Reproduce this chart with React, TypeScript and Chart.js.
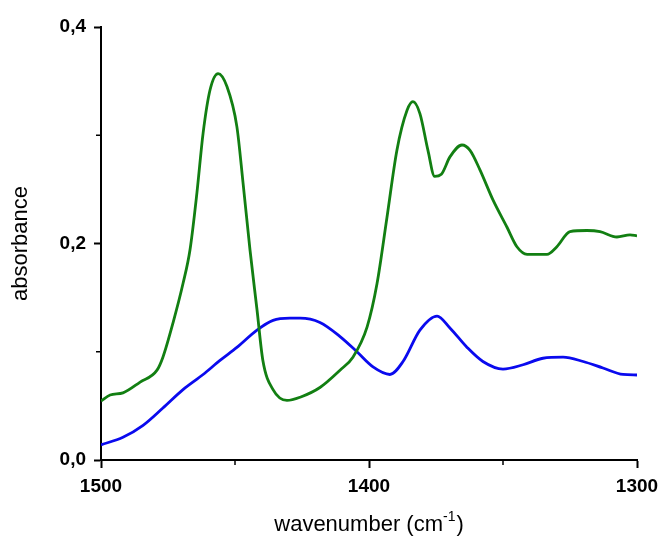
import React, { useEffect, useRef } from "react";
import { Chart, registerables } from "chart.js";

Chart.register(...registerables);

const greenWavenumbers = [1500, 1496.6, 1491.8, 1485.4, 1479.1, 1476.9, 1473.1, 1469.4, 1466.8, 1464.2, 1461.9, 1459.3, 1456.3, 1453.0, 1449.3, 1447.0, 1444.4, 1441.8, 1439.6, 1435.8, 1430.6, 1425.7, 1418.3, 1410.8, 1406.0, 1400.7, 1397.0, 1393.3, 1389.6, 1385.8, 1383.6, 1381.0, 1378.0, 1375.5, 1373.0, 1369.8, 1365.3, 1362.3, 1358.6, 1353.7, 1348.5, 1344.8, 1341.0, 1333.6, 1329.9, 1325.0, 1318.7, 1313.8, 1307.5, 1302.6, 1300];
const greenAbsorbance = [0.0545, 0.060, 0.062, 0.072, 0.083, 0.095, 0.127, 0.163, 0.194, 0.247, 0.302, 0.342, 0.357, 0.345, 0.308, 0.256, 0.194, 0.139, 0.092, 0.065, 0.055, 0.058, 0.067, 0.083, 0.095, 0.123, 0.163, 0.224, 0.286, 0.323, 0.331, 0.320, 0.286, 0.262, 0.264, 0.280, 0.291, 0.286, 0.268, 0.240, 0.215, 0.197, 0.190, 0.190, 0.197, 0.211, 0.212, 0.211, 0.206, 0.208, 0.207];

const blueWavenumbers = [1500, 1491.8, 1484.3, 1476.9, 1469.4, 1461.9, 1455.6, 1449.3, 1441.8, 1435.8, 1429.5, 1425.7, 1418.3, 1410.8, 1404.5, 1398.5, 1392.2, 1387.3, 1381.0, 1374.6, 1369.8, 1363.4, 1357.5, 1350.0, 1342.5, 1335.1, 1327.6, 1320.1, 1312.7, 1305.2, 1300];
const blueAbsorbance = [0.014, 0.021, 0.032, 0.048, 0.065, 0.079, 0.092, 0.104, 0.120, 0.129, 0.131, 0.131, 0.127, 0.114, 0.100, 0.086, 0.079, 0.091, 0.120, 0.133, 0.122, 0.104, 0.091, 0.084, 0.088, 0.094, 0.095, 0.091, 0.085, 0.079, 0.0785];

const xMajorTicks = [1500, 1400, 1300];
const xMinorTicks = [1450, 1350];
const yMajorTicks = [0, 0.2, 0.4];
const yMinorTicks = [0.1, 0.3];

const xTitleMain = "wavenumber (cm";
const xTitleSup = "-1";
const xTitleEnd = ")";

const FONT = "'Liberation Sans', Arial, sans-serif";

const extrasPlugin = {
  id: "extras",
  afterDraw(chart: any) {
    const { ctx, chartArea, scales } = chart;
    ctx.save();
    ctx.strokeStyle = "#000";
    ctx.lineWidth = 1.5;
    for (const v of yMinorTicks) {
      const y = scales.y.getPixelForValue(v);
      ctx.beginPath();
      ctx.moveTo(chartArea.left - 5, y);
      ctx.lineTo(chartArea.left, y);
      ctx.stroke();
    }
    for (const v of xMinorTicks) {
      const x = scales.x.getPixelForValue(v);
      ctx.beginPath();
      ctx.moveTo(x, chartArea.bottom);
      ctx.lineTo(x, chartArea.bottom + 5);
      ctx.stroke();
    }
    // x-axis title with superscript
    const mainFont = `22px ${FONT}`;
    const supFont = `14px ${FONT}`;
    ctx.fillStyle = "#000";
    ctx.textBaseline = "alphabetic";
    ctx.textAlign = "left";
    ctx.font = mainFont;
    const w1 = ctx.measureText(xTitleMain).width;
    const w3 = ctx.measureText(xTitleEnd).width;
    ctx.font = supFont;
    const w2 = ctx.measureText(xTitleSup).width;
    const total = w1 + w2 + 1 + w3;
    const cx = (chartArea.left + chartArea.right) / 2;
    let x = cx - total / 2;
    const baseline = 531;
    ctx.font = mainFont;
    ctx.fillText(xTitleMain, x, baseline);
    x += w1;
    ctx.font = supFont;
    ctx.fillText(xTitleSup, x, baseline - 10);
    x += w2 + 1;
    ctx.font = mainFont;
    ctx.fillText(xTitleEnd, x, baseline);
    ctx.restore();
  },
};

export default function App() {
  const canvasRef = useRef<HTMLCanvasElement | null>(null);

  useEffect(() => {
    const canvas = canvasRef.current;
    if (!canvas) return;
    const chart = new Chart(canvas, {
      type: "line",
      data: {
        datasets: [
          {
            data: greenWavenumbers.map((x, i) => ({ x, y: greenAbsorbance[i] })),
            borderColor: "#127f12",
            borderWidth: 2.8,
            pointRadius: 0,
            cubicInterpolationMode: "monotone",
            fill: false,
          },
          {
            data: blueWavenumbers.map((x, i) => ({ x, y: blueAbsorbance[i] })),
            borderColor: "#0a0aee",
            borderWidth: 2.8,
            pointRadius: 0,
            cubicInterpolationMode: "monotone",
            fill: false,
          },
        ],
      },
      options: {
        responsive: false,
        animation: false,
        layout: { padding: { top: 27, right: 24, bottom: 0, left: 0 } },
        plugins: { legend: { display: false }, tooltip: { enabled: false } },
        scales: {
          x: {
            type: "linear",
            reverse: true,
            min: 1300,
            max: 1500,
            afterBuildTicks: (scale: any) => {
              scale.ticks = xMajorTicks.map((v) => ({ value: v }));
            },
            afterFit: (scale: any) => {
              scale.height = 76;
              scale.paddingLeft = 0;
              scale.paddingRight = 0;
            },
            ticks: {
              color: "#000",
              font: { family: FONT, size: 19, weight: "bold" },
              padding: 7,
              maxRotation: 0,
              callback: (v: any) => String(v),
            },
            grid: { drawOnChartArea: false, drawTicks: true, tickLength: 8, tickColor: "#000", tickWidth: 2 },
            border: { color: "#000", width: 2 },
            title: { display: false },
          },
          y: {
            min: 0,
            max: 0.4,
            afterBuildTicks: (scale: any) => {
              scale.ticks = yMajorTicks.map((v) => ({ value: v }));
            },
            afterFit: (scale: any) => {
              scale.width = 101;
              scale.paddingTop = 0;
              scale.paddingBottom = 0;
            },
            ticks: {
              color: "#000",
              font: { family: FONT, size: 19, weight: "bold" },
              padding: 8,
              callback: (v: any) => Number(v).toFixed(1).replace(".", ","),
            },
            grid: { drawOnChartArea: false, drawTicks: true, tickLength: 7, tickColor: "#000", tickWidth: 2 },
            border: { color: "#000", width: 2 },
            title: {
              display: true,
              text: "absorbance",
              color: "#000",
              font: { family: FONT, size: 22 },
              padding: { top: 8, bottom: 0 },
            },
          },
        },
      },
      plugins: [extrasPlugin],
    } as any);
    return () => chart.destroy();
  }, []);

  return (
    <div style={{ position: "fixed", left: 0, top: 0, width: 661, height: 536, background: "#fff" }}>
      <canvas ref={canvasRef} width={661} height={536} style={{ width: 661, height: 536 }} />
    </div>
  );
}
